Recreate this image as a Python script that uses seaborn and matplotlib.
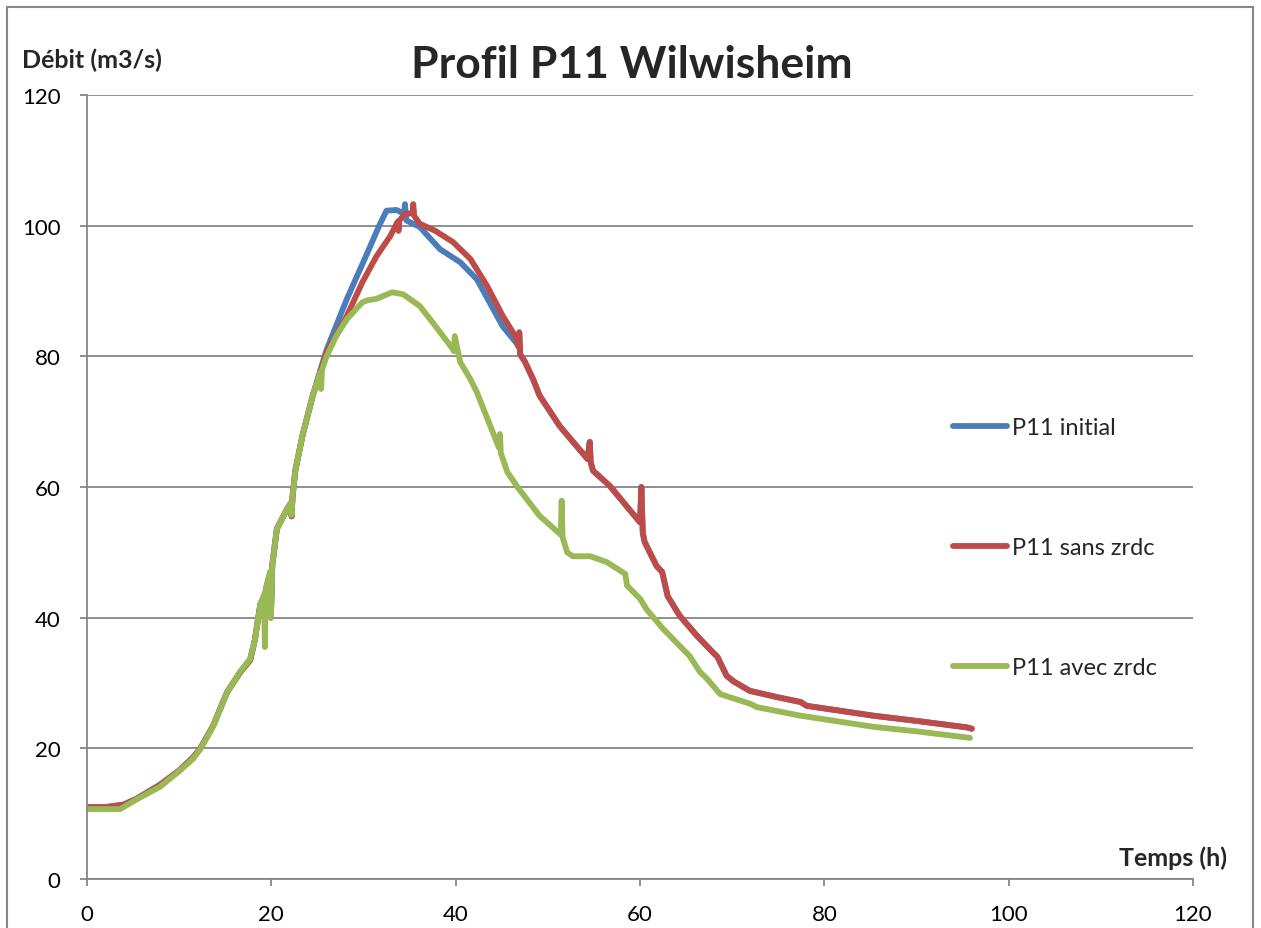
import pandas as pd
import matplotlib
matplotlib.use("Agg")
import matplotlib.pyplot as plt
from matplotlib.patches import Rectangle
import seaborn as sns

# ── Data ──────────────────────────────────────────────────────────────────────
SERIES = ["P11 initial", "P11 sans zrdc", "P11 avec zrdc"]

t_sans = [0, 2, 4, 5.4, 7.9, 10, 11.5, 12.3, 13.7, 15.2, 16.6, 17.7, 18.2, 18.8,
          19.3, 19.7, 19.85, 19.95, 20.1, 20.6, 21.7, 22.1, 22.2, 22.3, 22.6, 23.4,
          24.5, 25.3, 26, 28.2, 29.9, 31.4, 32.9, 33.7, 33.8, 33.9, 34.5, 35.3, 35.4,
          35.5, 36.1, 37.8, 39.7, 41.6, 43.4, 45.1, 46.6, 46.8, 46.9, 47.0, 47.5,
          48.4, 49.1, 51.3, 54.3, 54.55, 54.65, 54.9, 56.7, 60.0, 60.15, 60.3, 60.5,
          61.8, 62.4, 63.0, 64.3, 66.2, 67.9, 68.4, 69.4, 70.1, 71.9, 75.0, 77.4,
          78.1, 81.5, 85.3, 90.0, 95.5, 96.0]
q_sans = [11.0, 11.0, 11.4, 12.3, 14.4, 16.6, 18.6, 20.0, 23.5, 28.6, 31.6, 33.5, 36.5, 42.0,
          43.5, 46.0, 46.5, 40.0, 48.0, 53.6, 56.6, 57.5, 55.5, 58.5, 62.5, 68.0,
          74.0, 77.5, 80.7, 86.2, 91.4, 95.3, 98.4, 100.6, 99.2, 100.8, 101.8, 101.9, 103.3,
          101.5, 100.3, 99.2, 97.5, 94.9, 90.8, 86.2, 82.8, 81.5, 83.7, 80.3, 79.2,
          76.5, 74.0, 69.3, 64.3, 66.9, 63.8, 62.5, 60.2, 54.6, 60.0, 53.0, 51.6,
          47.9, 47.0, 43.3, 40.3, 37.2, 34.7, 34.0, 31.1, 30.3, 28.8, 27.8, 27.1,
          26.5, 25.8, 25.0, 24.2, 23.2, 23.0]

t_init = [0, 2, 4, 5.4, 7.9, 10, 11.5, 12.3, 13.7, 15.2, 16.6, 17.7, 18.2, 18.8,
          19.3, 19.7, 19.85, 19.95, 20.1, 20.6, 21.7, 22.1, 22.2, 22.3, 22.6, 23.4,
          24.5, 25.3, 26, 28.2, 30.0, 31.8, 32.5, 33.6, 34.4, 34.5, 34.65, 36.1,
          38.3, 40.5, 42.3, 45.1, 46.6, 46.8, 46.9, 47.0, 47.5, 48.4, 49.1, 51.3,
          54.3, 54.55, 54.65, 54.9, 56.7, 60.0, 60.15, 60.3, 60.5, 61.8, 62.4, 63.0,
          64.3, 66.2, 67.9, 68.4, 69.4, 70.1, 71.9, 75.0, 77.4, 78.1, 81.5, 85.3,
          90.0, 95.5, 96.0]
q_init = [11.0, 11.0, 11.4, 12.3, 14.4, 16.6, 18.6, 20.0, 23.5, 28.6, 31.6, 33.5, 36.5, 42.0,
          43.5, 46.0, 46.5, 40.0, 48.0, 53.6, 56.6, 57.5, 55.5, 58.5, 62.5, 68.0,
          74.0, 77.8, 81.0, 88.8, 94.5, 100.3, 102.3, 102.4, 101.8, 103.3, 100.8, 99.8,
          96.4, 94.4, 91.8, 84.6, 82.0, 81.5, 83.5, 80.3, 79.2, 76.5, 74.0, 69.3,
          64.3, 66.9, 63.8, 62.5, 60.2, 54.6, 60.0, 53.0, 51.6, 47.9, 47.0, 43.3,
          40.3, 37.2, 34.7, 34.0, 31.1, 30.3, 28.8, 27.8, 27.1, 26.5, 25.8, 25.0,
          24.2, 23.2, 23.0]

t_avec = [0, 3.6, 5.4, 7.9, 10, 11.5, 12.3, 13.7, 15.2, 16.6, 17.7, 18.2, 18.8,
          19.2, 19.3, 19.4, 19.7, 19.85, 19.95, 20.1, 20.6, 21.7, 22.1, 22.2, 22.3,
          22.6, 23.4, 24.5, 25.3, 25.4, 25.5, 26, 27.0, 28.2, 29.9, 30.5, 31.4, 33.1,
          34.3, 36.1, 37.5, 39.7, 39.8, 39.9, 40.5, 41.6, 42.3, 44.7, 44.8, 44.9,
          45.6, 46.7, 49.1, 51.4, 51.5, 51.6, 52.1, 52.7, 54.6, 56.4, 58.4, 58.6,
          60.0, 60.7, 62.5, 65.4, 66.5, 67.3, 68.7, 72.0, 72.7, 77.4, 85.3, 90.0, 95.8]
q_avec = [10.7, 10.7, 12.2, 14.1, 16.5, 18.4, 19.9, 23.4, 28.6, 31.7, 33.7, 36.5, 42.0,
          43.5, 35.5, 44.5, 46.0, 47.0, 40.0, 48.0, 53.6, 56.6, 57.5, 55.7, 58.5,
          62.5, 68.0, 74.0, 77.5, 75.0, 78.0, 80.0, 83.0, 85.7, 88.3, 88.6, 88.8, 89.8,
          89.5, 87.7, 85.2, 81.1, 80.8, 83.1, 79.1, 76.5, 74.5, 66.0, 68.1, 65.2,
          62.3, 60.0, 55.6, 52.7, 57.9, 52.3, 50.0, 49.4, 49.4, 48.5, 46.7, 44.9,
          42.9, 41.3, 38.3, 34.1, 31.7, 30.6, 28.3, 26.8, 26.3, 25.0, 23.3, 22.6, 21.6]

x_ticks = [0, 20, 40, 60, 80, 100, 120]
y_ticks = [0, 20, 40, 60, 80, 100, 120]

# ── Style ─────────────────────────────────────────────────────────────────────
PALETTE = {"P11 initial": "#4A7EBB", "P11 sans zrdc": "#BE4B48", "P11 avec zrdc": "#98B954"}
GREY = "#868686"
sns.set_theme(style="white")
plt.rcParams["font.family"] = ["Lato", "DejaVu Sans"]

df = pd.concat([
    pd.DataFrame({"t": t_init, "q": q_init, "serie": SERIES[0]}),
    pd.DataFrame({"t": t_sans, "q": q_sans, "serie": SERIES[1]}),
    pd.DataFrame({"t": t_avec, "q": q_avec, "serie": SERIES[2]}),
], ignore_index=True)

fig = plt.figure(figsize=(12.61, 9.29), dpi=100)
ax = fig.add_axes([87 / 1261, 1 - 880 / 929, (1193 - 87) / 1261, (880 - 96) / 929])

sns.lineplot(data=df, x="t", y="q", hue="serie", hue_order=SERIES, palette=PALETTE,
             sort=False, estimator=None, linewidth=4.2, ax=ax,
             solid_capstyle="round", solid_joinstyle="round")

ax.set_xlim(0, 120)
ax.set_ylim(0, 120)
ax.set_xticks(x_ticks)
ax.set_yticks(y_ticks)
ax.set_xlabel("")
ax.set_ylabel("")
ax.yaxis.grid(True, color=GREY, linewidth=1.3)
ax.xaxis.grid(False)
ax.set_axisbelow(True)
for side in ["top", "right"]:
    ax.spines[side].set_visible(False)
for side in ["left", "bottom"]:
    ax.spines[side].set_color(GREY)
    ax.spines[side].set_linewidth(1.3)
ax.tick_params(axis="both", direction="out", length=5, width=1.3, color=GREY,
               labelsize=16, labelcolor="black")
ax.tick_params(axis="x", pad=13, bottom=True)
ax.tick_params(axis="y", pad=14, left=True)

handles, labels = ax.get_legend_handles_labels()
ax.legend(handles, labels, loc="upper left", bbox_to_anchor=(953 / 1261, 1 - 418 / 929),
          bbox_transform=fig.transFigure, frameon=False, fontsize=17,
          handlelength=2.3, handletextpad=0.2, labelspacing=4.2,
          borderpad=0, borderaxespad=0)

fig.text(0.5008, 1 - 65 / 929, "Profil P11 Wilwisheim", ha="center", va="center",
         fontsize=32, fontweight="bold")
fig.text(22 / 1261, 1 - 60 / 929, "Débit (m3/s)", ha="left", va="center",
         fontsize=18, fontweight="bold")
fig.text(1227 / 1261, 1 - 858 / 929, "Temps (h)", ha="right", va="center",
         fontsize=18, fontweight="bold")

# chart-area border
fig.add_artist(Rectangle((7 / 1261, -0.1), (1253 - 7) / 1261, 1.1 - 8 / 929,
                         transform=fig.transFigure, fill=False, edgecolor=GREY,
                         linewidth=1.5))

fig.savefig("out.png", dpi=100)
